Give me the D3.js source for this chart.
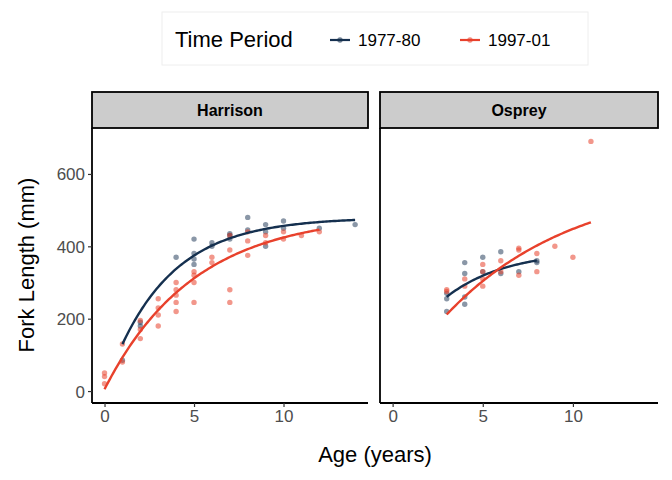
<!DOCTYPE html><html><head><meta charset="utf-8"><script src="https://cdn.jsdelivr.net/npm/d3@7"></script>
<style>body{margin:0;background:#fff}text{font-family:"Liberation Sans",Arial,sans-serif}</style></head><body><svg id="c" width="672" height="480"></svg>
<script>
const panels=["Harrison","Osprey"];
const periods=["1977-80","1997-01"];
const colors=["#15304f","#e8412c"];
const xTicks=[0,5,10], yTicks=[0,200,400,600];
const harrison7780=[[1,85],[2,190],[2,180],[4,370],[5,420],[5,365],[5,350],[5,380],[6,400],[6,410],[7,420],[7,430],[7,435],[8,480],[8,445],[9,460],[9,440],[9,400],[10,470],[10,450],[12,450],[14,460]];
const harrison9701=[[0,50],[0,40],[0,20],[1,130],[1,80],[2,195],[2,170],[2,145],[3,255],[3,230],[3,210],[3,180],[4,300],[4,280],[4,265],[4,245],[4,220],[5,330],[5,320],[5,300],[5,245],[6,370],[6,355],[7,390],[7,430],[7,280],[7,245],[8,375],[8,415],[8,440],[9,430],[9,410],[10,420],[10,440],[11,430],[12,440]];
const osprey7780=[[3,255],[3,270],[3,220],[4,355],[4,325],[4,260],[4,240],[5,370],[5,330],[6,385],[6,325],[7,330],[8,355],[8,360]];
const osprey9701=[[3,280],[3,275],[4,310],[4,290],[5,350],[5,330],[5,310],[5,290],[6,360],[6,330],[7,395],[7,390],[7,320],[8,380],[8,330],[9,400],[10,370],[11,690]];
// fitted von Bertalanffy curves: [Linf, K, t0, ageMin, ageMax]
const fitHarrison7780=[480,0.3,-0.05,1,14];
const fitHarrison9701=[490,0.2,-0.05,0,12];
const fitOsprey7780=[390,0.3,-0.67,3,8];
const fitOsprey9701=[590,0.14,-0.17,3,11];
const pts=[[harrison7780,harrison9701],[osprey7780,osprey9701]];
const fits=[[fitHarrison7780,fitHarrison9701],[fitOsprey7780,fitOsprey9701]];

const svg=d3.select("#c");
const y=d3.scaleLinear().domain([-33,727]).range([403,128]);
const px=[[92,368],[380,658]];
panels.forEach((p,i)=>{
  const x=d3.scaleLinear().domain([-0.7,14.72]).range(px[i]);
  const g=svg.append("g");
  g.append("rect").attr("x",px[i][0]).attr("y",92).attr("width",px[i][1]-px[i][0]).attr("height",36).attr("fill","#cccccc").attr("stroke","#000").attr("stroke-width",1.8);
  g.append("text").attr("x",(px[i][0]+px[i][1])/2).attr("y",116).attr("text-anchor","middle").attr("font-size",16).attr("font-weight","bold").text(p);
  pts[i].forEach((d,s)=>{
    g.selectAll(null).data(d).join("circle").attr("cx",v=>x(v[0])).attr("cy",v=>y(v[1])).attr("r",2.7).attr("fill",colors[s]).attr("opacity",s?0.55:0.5);
  });
  fits[i].forEach((f,s)=>{
    const ages=d3.range(f[3],f[4]+0.001,0.1);
    g.append("path").attr("d",d3.line().x(a=>x(a)).y(a=>y(f[0]*(1-Math.exp(-f[1]*(a-f[2])))))(ages)).attr("fill","none").attr("stroke",colors[s]).attr("stroke-width",2.4);
  });
  const xa=g.append("g").attr("transform","translate(0,403)").call(d3.axisBottom(x).tickValues(xTicks).tickSize(4).tickPadding(3));
  xa.select(".domain").attr("d",`M${px[i][0]},0H${px[i][1]}`).attr("stroke-width",1.8);
  xa.selectAll("text").attr("font-size",17).attr("fill","#4d4d4d");
  xa.selectAll(".tick line").attr("stroke","#333").attr("stroke-width",1.2);
  if(i==0){
    const ya=g.append("g").attr("transform","translate(92,0)").call(d3.axisLeft(y).tickValues(yTicks).tickSize(4).tickPadding(3));
    ya.select(".domain").attr("d","M0,128V403").attr("stroke-width",1.8);
    ya.selectAll("text").attr("font-size",17).attr("fill","#4d4d4d").attr("dy","0.35em");
    ya.selectAll(".tick line").attr("stroke","#333").attr("stroke-width",1.2);
  } else {
    g.append("line").attr("x1",380).attr("x2",380).attr("y1",128).attr("y2",403).attr("stroke","#000").attr("stroke-width",1.8);
  }
});
svg.append("text").attr("x",375).attr("y",462).attr("text-anchor","middle").attr("font-size",22).text("Age (years)");
svg.append("text").attr("transform","translate(34,265) rotate(-90)").attr("text-anchor","middle").attr("font-size",22).text("Fork Length (mm)");
const lg=svg.append("g");
lg.append("rect").attr("x",162).attr("y",12).attr("width",426).attr("height",53).attr("fill","#fff").attr("stroke","#eee");
lg.append("text").attr("x",175).attr("y",47).attr("font-size",22).text("Time Period");
const lx=[330,460];
periods.forEach((p,s)=>{
  lg.append("line").attr("x1",lx[s]).attr("x2",lx[s]+20).attr("y1",40).attr("y2",40).attr("stroke",colors[s]).attr("stroke-width",2.2);
  lg.append("circle").attr("cx",lx[s]+10).attr("cy",40).attr("r",2.7).attr("fill",colors[s]).attr("opacity",0.6);
  lg.append("text").attr("x",lx[s]+28).attr("y",46).attr("font-size",17).text(p);
});
</script></body></html>
